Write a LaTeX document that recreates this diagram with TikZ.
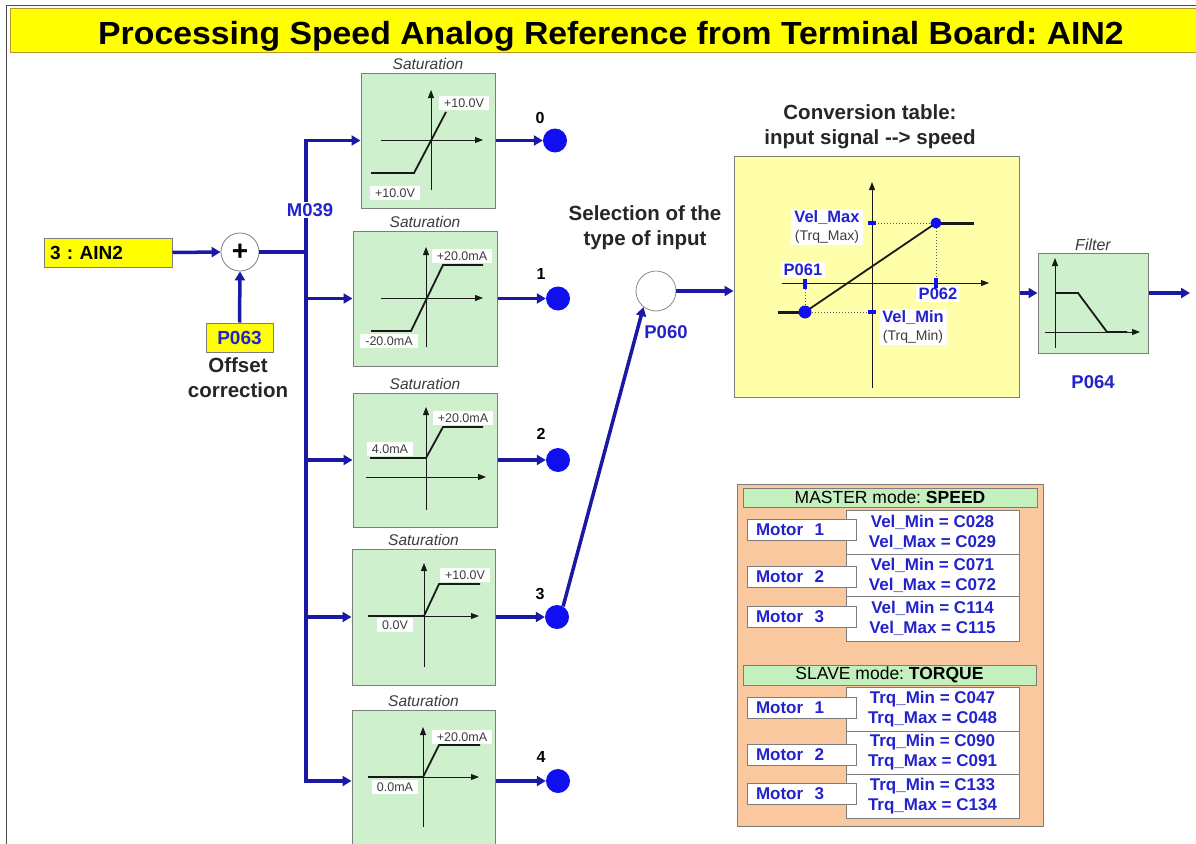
\documentclass[tikz,border=0pt]{standalone}
\usepackage{fontspec}
\setmainfont{Liberation Sans}
\setsansfont{Liberation Sans}
\usetikzlibrary{arrows.meta}
\definecolor{lnblue}{RGB}{25,25,165}
\definecolor{txblue}{RGB}{35,35,205}
\definecolor{dotblue}{RGB}{15,15,240}
\definecolor{satgreen}{RGB}{206,240,204}
\definecolor{boxgray}{RGB}{125,125,125}
\definecolor{ttlyellow}{RGB}{255,255,0}
\definecolor{ttlborder}{RGB}{190,150,40}
\definecolor{tabyellow}{RGB}{255,255,170}
\definecolor{peach}{RGB}{250,200,158}
\definecolor{hdrgreen}{RGB}{196,240,190}
\definecolor{lblgray}{RGB}{60,60,60}
\definecolor{plotblack}{RGB}{25,25,25}
\newcommand\fsz[2]{\fontsize{#1}{#2}\selectfont}
\tikzset{
  wire/.style={draw=lnblue, line width=3.5pt},
  arr/.style={wire, -{Triangle[length=9pt,width=10pt]}},
  satbox/.style={draw=boxgray, fill=satgreen, line width=1pt, inner sep=0pt},
  satlbl/.style={font=\fsz{15.5}{17}\itshape, text=lblgray, inner sep=1pt},
  outdot/.style={circle, fill=dotblue, minimum size=24pt, inner sep=0pt},
  outnum/.style={font=\fsz{16}{18}\bfseries, text=black},
  axis/.style={draw=plotblack, line width=0.9pt, -{Triangle[length=8pt,width=6pt]}},
  curve/.style={draw=plotblack, line width=1.8pt},
  vlbl/.style={fill=white, font=\fsz{12.5}{14}, text=lblgray, inner xsep=5pt, inner ysep=2.5pt},
  bluelbl/.style={font=\fsz{18.5}{20}\bfseries, text=txblue, inner sep=1pt},
  convlbl/.style={fill=white, font=\fsz{16.5}{18}\bfseries, text=txblue, inner xsep=3pt, inner ysep=2pt, align=center},
  darktxt/.style={font=\fsz{20.5}{25}\bfseries, text=black!85, align=center},
  ybox/.style={draw=boxgray, fill=ttlyellow, line width=1pt},
  hdr/.style={draw=boxgray, fill=hdrgreen, line width=1pt, font=\fsz{17.5}{18}, minimum height=19pt, minimum width=294pt, inner sep=0pt},
  valbox/.style={draw=boxgray, fill=white, line width=1pt, minimum width=173pt, inner sep=0pt, align=center, font=\fsz{17}{20}\bfseries, text=txblue},
  motbox/.style={draw=boxgray, fill=white, line width=1pt, minimum height=21pt, text width=91pt, inner xsep=9pt, inner ysep=0pt, align=left, font=\fsz{17}{18}\bfseries, text=txblue},
  bluetick/.style={fill=dotblue},
}
\begin{document}
\frenchspacing
\begin{tikzpicture}[x=1pt,y=-1pt]
\useasboundingbox (0,0) rectangle (1196,843);
\fill[white] (0,0) rectangle (1196,843);
\draw[black!70, line width=1pt] (6,860) -- (6,6) -- (1200,6);
% title
\node[draw=ttlborder, fill=ttlyellow, line width=1pt, minimum width=1192pt, minimum height=44pt, inner sep=0pt] (title) at (606,31) {};
\node[anchor=base, inner sep=0pt, font=\fsz{32}{36}\bfseries] (ttxt) at (611,45) {\scalebox{1.055}[1]{Processing Speed Analog Reference from Terminal Board: AIN2}};

% input and offset
\node[ybox, minimum width=128pt, minimum height=29pt, text width=116pt, inner xsep=6pt, inner ysep=0pt, align=left, font=\fsz{19}{20}\bfseries] (ain) at (108,252.5) {3 : AIN2};
\node[circle, draw=black!50, fill=white, line width=0.8pt, minimum size=38pt, inner sep=0pt, font=\fsz{28}{28}\bfseries] (sum) at (240,252) {+};
\node[ybox, minimum width=67pt, minimum height=29pt, inner sep=0pt, font=\fsz{19}{20}\bfseries, text=txblue] (p063) at (239.5,337.5) {P063};
\node[darktxt] (offs) at (238,378) {Offset\\correction};
\draw[arr] (ain.east) -- (sum.west);
\draw[arr] (p063.north) -- (sum.south);

% saturation boxes
\node[satbox, minimum width=134pt, minimum height=135pt, label={[satlbl, label distance=2pt]above:Saturation}] (sat0) at (428,140.5) {};
\node[satbox, minimum width=144pt, minimum height=135pt, label={[satlbl, label distance=2pt]above:Saturation}] (sat1) at (425,298.5) {};
\node[satbox, minimum width=144pt, minimum height=134pt, label={[satlbl, label distance=2pt]above:Saturation}] (sat2) at (425,460) {};
\node[satbox, minimum width=143pt, minimum height=136pt, label={[satlbl, label distance=2pt]above:Saturation}] (sat3) at (423.5,617) {};
\node[satbox, minimum width=143pt, minimum height=142pt, label={[satlbl, label distance=2pt]above:Saturation}] (sat4) at (423.5,781) {};

% bus
\coordinate (j) at (306,252);
\draw[wire] (sum.east) -- (j);
\draw[arr] (j) -- (j |- sat0.west) -- (sat0.west);
\draw[arr] (j) -- (j |- sat4.west) -- (sat4.west);
\draw[arr] (j |- sat1.west) -- (sat1.west);
\draw[arr] (j |- sat2.west) -- (sat2.west);
\draw[arr] (j |- sat3.west) -- (sat3.west);
\node[bluelbl, fill=white] (m039) at (310,210) {M039};

% plots in saturation boxes
\draw[axis] (431,190) -- (431,90);
\draw[axis] (381,140) -- (483,140);
\draw[curve] (371,173) -- (414,173) -- (446,112);
\node[vlbl] (l0a) at (464,103) {+10.0V};
\node[vlbl] (l0b) at (395,193) {+10.0V};

\draw[axis] (426,347) -- (426,247);
\draw[axis] (381,298) -- (483,298);
\draw[curve] (371,331) -- (411,331) -- (443,265) -- (483,265);
\node[vlbl] (l1a) at (462,256) {+20.0mA};
\node[vlbl] (l1b) at (389,341) {-20.0mA};

\draw[axis] (426,510) -- (426,407);
\draw[axis] (366,477) -- (486,477);
\draw[curve] (370,458) -- (426,458) -- (443,427) -- (483,427);
\node[vlbl] (l2a) at (463,418) {+20.0mA};
\node[vlbl] (l2b) at (390,449) {4.0mA};

\draw[axis] (424,667) -- (424,563);
\draw[axis] (368,616) -- (479,616);
\draw[curve] (368,616) -- (424,616) -- (439,584) -- (480,584);
\node[vlbl] (l3a) at (465,575) {+10.0V};
\node[vlbl] (l3b) at (395,625) {0.0V};

\draw[axis] (423,827) -- (423,727);
\draw[axis] (368,777) -- (479,777);
\draw[curve] (368,777) -- (423,777) -- (439,745) -- (480,745);
\node[vlbl] (l4a) at (462,737) {+20.0mA};
\node[vlbl] (l4b) at (395,787) {0.0mA};

% output dots
\node[outdot] (d0) at (555,140.5) {};
\node[outdot] (d1) at (558,298.5) {};
\node[outdot] (d2) at (558,460) {};
\node[outdot] (d3) at (557,617) {};
\node[outdot] (d4) at (558,781) {};
\draw[arr] (sat0.east) -- (d0.west);
\draw[arr] (sat1.east) -- (d1.west);
\draw[arr] (sat2.east) -- (d2.west);
\draw[arr] (sat3.east) -- (d3.west);
\draw[arr] (sat4.east) -- (d4.west);
\node[outnum] (n0) at (540,118) {0};
\node[outnum] (n1) at (541,274) {1};
\node[outnum] (n2) at (541,434) {2};
\node[outnum] (n3) at (540,594) {3};
\node[outnum] (n4) at (541,757) {4};

% selection
\node[darktxt] (seltxt) at (645,228) {Selection of the\\type of input};
\node[circle, draw=black!45, fill=white, line width=0.8pt, minimum size=40pt, inner sep=0pt] (sel) at (656,291) {};
\draw[arr] (d3.60) -- (sel.232);
\node[bluelbl] (p060) at (666,332) {P060};

% conversion table
\node[darktxt] (convtxt) at (870,127) {Conversion table:\\input signal -{}-> speed};
\node[draw=boxgray, fill=tabyellow, line width=1pt, minimum width=285pt, minimum height=241pt, inner sep=0pt] (conv) at (876.5,276.5) {};
\draw[arr] (sel.east) -- (sel.east -| conv.west);
\draw[axis] (872,388) -- (872,182);
\draw[axis] (782,283) -- (989,283);
\draw[plotblack!70, line width=1pt, dotted] (872,223) -- (936,223) -- (936,283);
\draw[plotblack!70, line width=1pt, dotted] (805,283) -- (805,312) -- (872,312);
\draw[curve, line width=3pt] (778,312) -- (805,312);
\draw[curve] (805,312) -- (936,223);
\draw[curve, line width=3pt] (936,223) -- (974,223);
\node[convlbl] (vmax) at (827,227) {Vel\_Max\\{\fsz{14}{18}\mdseries\color{lblgray}(Trq\_Max)}};
\node[convlbl] (p061) at (803,270) {P061};
\node[convlbl] (p062) at (938,294) {P062};
\node[convlbl] (vmin) at (913,327) {Vel\_Min\\{\fsz{14}{18}\mdseries\color{lblgray}(Trq\_Min)}};
\fill[bluetick] (868,221) rectangle (876,225);
\fill[bluetick] (868,310) rectangle (876,314);
\fill[bluetick] (803,279) rectangle (807,289);
\fill[bluetick] (934,278) rectangle (938,288);
\node[circle, fill=dotblue, minimum size=13pt, inner sep=0pt] (cdl) at (805,312) {};
\node[circle, fill=dotblue, minimum size=11pt, inner sep=0pt] (cdr) at (936,223) {};

% filter
\coordinate (fy) at (0,293);
\node[satbox, minimum width=110pt, minimum height=100pt, label={[satlbl, font=\fsz{16}{17}\itshape, label distance=1pt]above:Filter}] (filt) at (1093,303) {};
\node[bluelbl] (p064) at (1093,382) {P064};
\draw[arr] (conv.east |- fy) -- (filt.west |- fy);
\coordinate (outend) at (1190,293);
\draw[arr] (filt.east |- fy) -- (outend);
\draw[axis] (1055,348) -- (1055,258);
\draw[axis] (1045,332) -- (1140,332);
\draw[curve] (1055,293) -- (1078,293) -- (1107,332) -- (1127,332);

% master / slave panel
\node[draw=boxgray, fill=peach, line width=1pt, minimum width=306pt, minimum height=342pt, inner sep=0pt] (panel) at (890,655) {};
\node[hdr] (mh) at (890,497.5) {MASTER mode: \textbf{SPEED}};
\node[valbox, minimum height=44pt] (mv1) at (932.5,532) {Vel\_Min = C028\\Vel\_Max = C029};
\node[valbox, minimum height=42pt] (mv2) at (932.5,575) {Vel\_Min = C071\\Vel\_Max = C072};
\node[valbox, minimum height=45pt] (mv3) at (932.5,618.5) {Vel\_Min = C114\\Vel\_Max = C115};
\node[motbox] (mm1) at (801.5,529.5) {Motor\ \ 1};
\node[motbox] (mm2) at (801.5,576.5) {Motor\ \ 2};
\node[motbox] (mm3) at (801.5,616.5) {Motor\ \ 3};

\node[hdr, minimum width=293pt, minimum height=20pt] (sh) at (889.5,675) {SLAVE mode: \textbf{TORQUE}};
\node[valbox, minimum height=44pt] (sv1) at (932.5,709) {Trq\_Min = C047\\Trq\_Max = C048};
\node[valbox, minimum height=43pt] (sv2) at (932.5,752.5) {Trq\_Min = C090\\Trq\_Max = C091};
\node[valbox, minimum height=44pt] (sv3) at (932.5,796) {Trq\_Min = C133\\Trq\_Max = C134};
\node[motbox] (sm1) at (801.5,707.5) {Motor\ \ 1};
\node[motbox] (sm2) at (801.5,754.5) {Motor\ \ 2};
\node[motbox] (sm3) at (801.5,794) {Motor\ \ 3};
\end{tikzpicture}
\end{document}
